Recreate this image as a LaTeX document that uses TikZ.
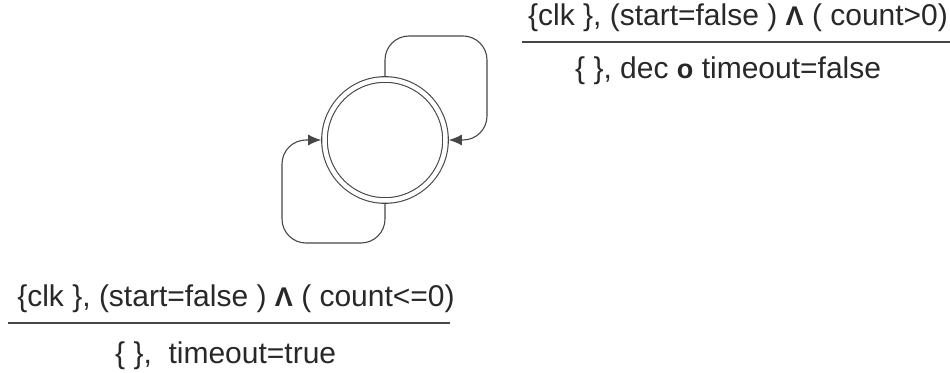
\documentclass[tikz,border=0pt]{standalone}
\usepackage{fontspec}
\setmainfont{Liberation Sans}
\usetikzlibrary{arrows.meta,positioning}
\definecolor{ink}{RGB}{70,70,70}
\definecolor{txt}{RGB}{40,40,40}
\newcommand{\andsym}{{\fontsize{27}{27}\selectfont\bfseries Λ}}
\newcommand{\compsym}{{\fontsize{27}{27}\selectfont\bfseries o}}

\begin{document}
\begin{tikzpicture}[x=1pt, y=1pt, >={Latex[length=13pt,width=11pt]},
    state/.style={circle, draw=ink, line width=1.1pt, double, double distance=4.5pt, minimum size=121pt, outer sep=3.4pt},
    selfloop/.style={->, ink, line width=1.1pt, rounded corners=24pt},
    lbl/.style={inner sep=0pt, anchor=base, text=txt, font=\fontsize{30}{34}\selectfont},
    rule/.style={ink, line width=1.2pt}]

    \useasboundingbox (0,0) rectangle (950,372);

    % State
    \node[state] (st) at (385,232) {};

    % Self loops
    \coordinate (tr) at (487,336);
    \coordinate (bl) at (282,129);
    \draw[selfloop] (st.north) |- (tr) |- (st.east);
    \draw[selfloop] (st.south) |- (bl) |- (st.west);

    % Upper label
    \node[lbl] (g1) at (738,346) {\{clk \}, (start=false ) \andsym{} ( count>0)};
    \coordinate (r1a) at (522,330);
    \coordinate (r1b) at (950,330);
    \draw[rule] (r1a) -- (r1b);
    \node[lbl, anchor=base west] (a1) at (575,293) {\{ \}, dec \compsym{} timeout=false};

    % Lower label
    \node[lbl] (g2) at (236,65) {\{clk \}, (start=false ) \andsym{} ( count<=0)};
    \coordinate (r2a) at (8,49);
    \coordinate (r2b) at (450,49);
    \draw[rule] (r2a) -- (r2b);
    \node[lbl, anchor=base west] (a2) at (115,9) {\{ \},~ timeout=true};

\end{tikzpicture}
\end{document}
